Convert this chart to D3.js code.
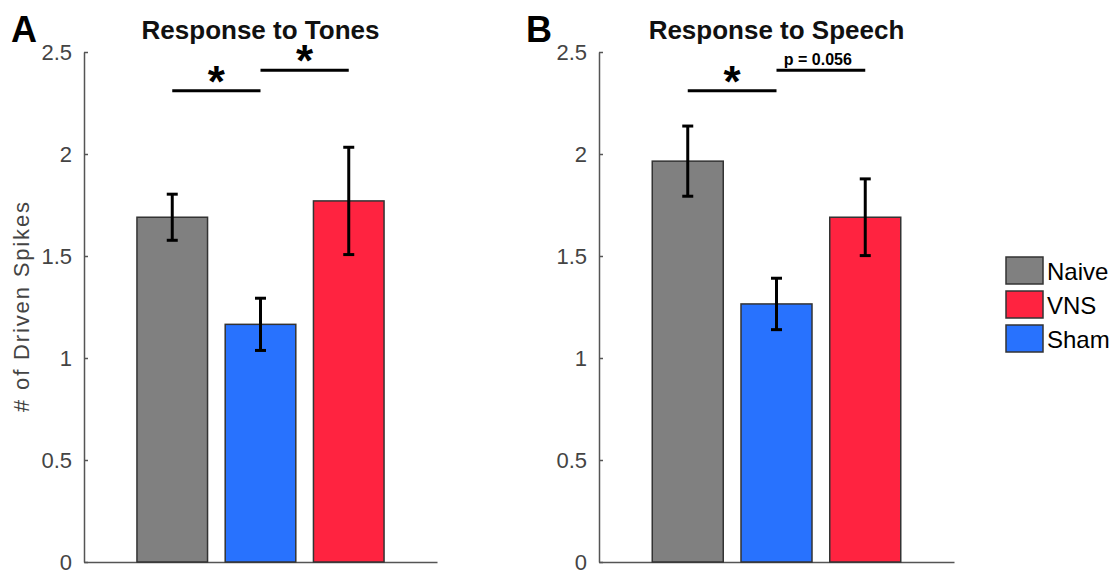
<html><head>
<title>VNS driven spikes</title>
<script src="https://d3js.org/d3.v7.min.js"></script>
<style>
  body { margin: 0; background: #fff; }
  svg text { font-family: "Liberation Sans", Arial, sans-serif; }
  .axis path, .axis line { stroke: #555; stroke-width: 1.5; }
  .axis text { fill: #444; font-size: 22px; }
  .title { font-weight: bold; font-size: 26px; fill: #111; }
  .panel-letter { font-weight: bold; font-size: 36px; fill: #000; }
</style>
</head>
<body>
<svg id="chart" width="1120" height="573"></svg>
<script>

// data
const groups = ["Naive", "Sham", "VNS"];          // bar order left to right
const legendOrder = ["Naive", "VNS", "Sham"];
const tonesMean = [1.69, 1.165, 1.77];
const tonesErr  = [0.113, 0.128, 0.263];
const speechMean = [1.965, 1.265, 1.69];
const speechErr  = [0.172, 0.126, 0.188];
const yTicks = [0, 0.5, 1, 1.5, 2, 2.5];

const colors = { "Naive": "#808080", "VNS": "#ff2340", "Sham": "#2872fe" };

let svg = d3.select("svg#chart");

// each panel: where the axes sit, and which significance marks it has
let panels = [
  { letter: "A", title: "Response to Tones", mean: tonesMean, err: tonesErr,
    left: 84, right: 437, ylabel: "# of Driven Spikes",
    sig: [ { from: 1, to: 2, y: 2.31, label: "*" }, { from: 2, to: 3, y: 2.41, label: "*" } ] },
  { letter: "B", title: "Response to Speech", mean: speechMean, err: speechErr,
    left: 599, right: 954, ylabel: null,
    sig: [ { from: 1, to: 2, y: 2.31, label: "*" }, { from: 2, to: 3, y: 2.41, label: "p = 0.056" } ] }
];

const plotTop = 52, plotBottom = 562;
const yScale = d3.scaleLinear().domain([0, 2.5]).range([plotBottom, plotTop]);

panels.forEach(p => {
  let xScale = d3.scaleLinear().domain([0, 4]).range([p.left, p.right]);
  let barW = xScale(0.8) - xScale(0);
  let g = svg.append("g");

  // axes (MATLAB style: ticks pointing inward)
  g.append("g").attr("class", "axis")
    .attr("transform", "translate(" + p.left + ",0)")
    .call(d3.axisLeft(yScale).tickValues(yTicks).tickSize(-4).tickSizeOuter(0).tickPadding(12)
      .tickFormat(d3.format("")));
  g.append("g").attr("class", "axis")
    .attr("transform", "translate(0," + plotBottom + ")")
    .call(d3.axisBottom(xScale).tickValues([]).tickSizeOuter(0));

  // bars
  p.mean.forEach((m, i) => {
    g.append("rect")
      .attr("x", xScale(i + 1) - barW / 2)
      .attr("y", yScale(m))
      .attr("width", barW)
      .attr("height", yScale(0) - yScale(m))
      .style("fill", colors[groups[i]])
      .style("stroke", "#333")
      .style("stroke-width", 1.5);
  });

  // error bars
  p.mean.forEach((m, i) => {
    let cx = xScale(i + 1);
    let lo = yScale(m - p.err[i]), hi = yScale(m + p.err[i]);
    g.append("line").attr("x1", cx).attr("x2", cx).attr("y1", lo).attr("y2", hi)
      .style("stroke", "#000").style("stroke-width", 3);
    [lo, hi].forEach(y => {
      g.append("line").attr("x1", cx - 5.5).attr("x2", cx + 5.5).attr("y1", y).attr("y2", y)
        .style("stroke", "#000").style("stroke-width", 3);
    });
  });

  // significance brackets
  p.sig.forEach(s => {
    let y = yScale(s.y);
    g.append("line").attr("x1", xScale(s.from)).attr("x2", xScale(s.to))
      .attr("y1", y).attr("y2", y)
      .style("stroke", "#000").style("stroke-width", 3);
    let mid = (xScale(s.from) + xScale(s.to)) / 2;
    if (s.label === "*") {
      g.append("text").attr("x", mid).attr("y", y + 6)
        .attr("text-anchor", "middle")
        .style("font-size", "44px").style("font-weight", "bold")
        .text("*");
    } else {
      g.append("text").attr("x", mid - 3).attr("y", y - 5)
        .attr("text-anchor", "middle")
        .style("font-size", "16px").style("font-weight", "bold")
        .text(s.label);
    }
  });

  // title + panel letter
  g.append("text").attr("class", "title")
    .attr("x", (p.left + p.right) / 2).attr("y", 39)
    .attr("text-anchor", "middle").text(p.title);
  g.append("text").attr("class", "panel-letter")
    .attr("x", p.left - 73).attr("y", 42).text(p.letter);

  if (p.ylabel) {
    g.append("text")
      .attr("transform", "translate(29,307) rotate(-90)")
      .attr("text-anchor", "middle")
      .attr("textLength", 210).attr("lengthAdjust", "spacing")
      .style("font-size", "22px").style("fill", "#444")
      .text(p.ylabel);
  }
});

// legend
let legend = svg.append("g").attr("transform", "translate(1006,257)");
legendOrder.forEach((name, i) => {
  let row = legend.append("g").attr("transform", "translate(0," + (i * 34) + ")");
  row.append("rect").attr("width", 37).attr("height", 27)
    .style("fill", colors[name]).style("stroke", "#333").style("stroke-width", 1.5);
  row.append("text").attr("x", 41).attr("y", 23)
    .style("font-size", "24px").style("fill", "#000")
    .text(name);
});

</script>
</body>
</html>
